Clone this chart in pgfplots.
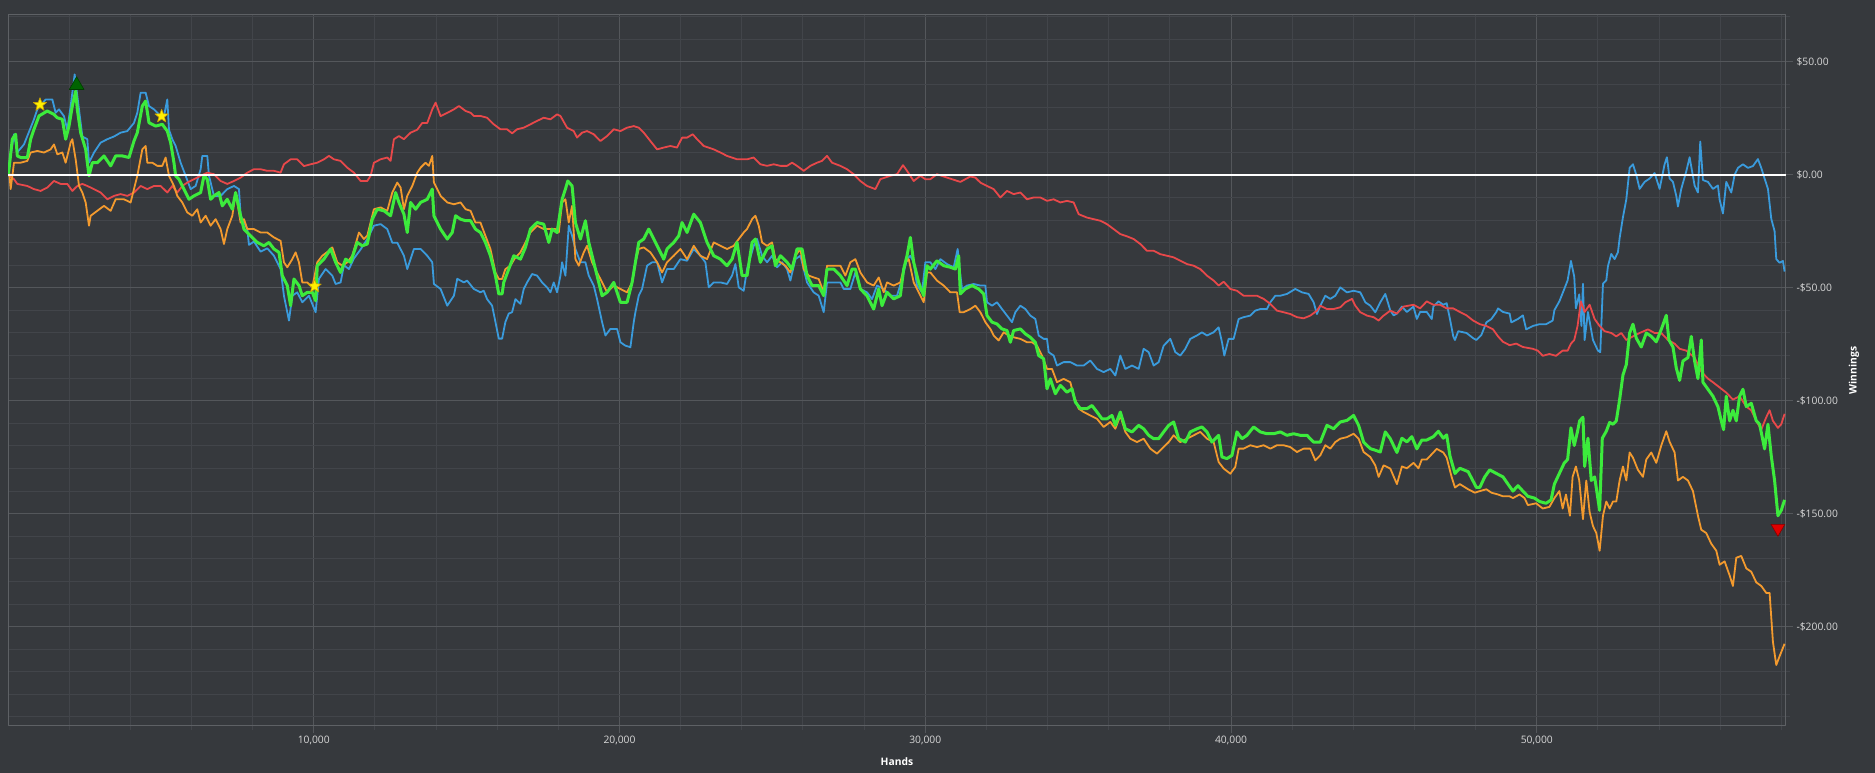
\documentclass[border=0pt]{standalone}
\usepackage{fontspec}
\setmainfont{Open Sans}
\usepackage{pgfplots}
\pgfplotsset{compat=1.18}
\usepackage{pgfplotstable}
\usetikzlibrary{plotmarks}
\definecolor{bg}{HTML}{36393D}
\definecolor{gridmin}{HTML}{42454A}
\definecolor{gridmaj}{HTML}{54575B}
\definecolor{framecol}{HTML}{5E6165}
\definecolor{ticktext}{HTML}{D8D8D8}
\definecolor{blueC}{HTML}{3A9BDC}
\definecolor{redC}{HTML}{E8484A}
\definecolor{orangeC}{HTML}{F39A2E}
\definecolor{greenC}{HTML}{3CEB3C}
\definecolor{starY}{HTML}{FFF000}
\definecolor{starD}{HTML}{C8A000}
\definecolor{dkgreen}{HTML}{006400}
\definecolor{redM}{HTML}{E00000}

\pgfdeclareplotmark{fstar}{%
  \pgfpathmoveto{\pgfpointpolar{90}{\pgfplotmarksize}}%
  \pgfpathlineto{\pgfpointpolar{126}{0.42\pgfplotmarksize}}%
  \pgfpathlineto{\pgfpointpolar{162}{\pgfplotmarksize}}%
  \pgfpathlineto{\pgfpointpolar{198}{0.42\pgfplotmarksize}}%
  \pgfpathlineto{\pgfpointpolar{234}{\pgfplotmarksize}}%
  \pgfpathlineto{\pgfpointpolar{270}{0.42\pgfplotmarksize}}%
  \pgfpathlineto{\pgfpointpolar{306}{\pgfplotmarksize}}%
  \pgfpathlineto{\pgfpointpolar{342}{0.42\pgfplotmarksize}}%
  \pgfpathlineto{\pgfpointpolar{18}{\pgfplotmarksize}}%
  \pgfpathlineto{\pgfpointpolar{54}{0.42\pgfplotmarksize}}%
  \pgfpathclose
  \pgfusepathqfillstroke}

\pgfplotstableread{
x y
0 0
33 4
196 18
305 10
523 13.5
850 24.6
959 29
1232 33.4
1450 33.4
1559 27.5
1668 29
1831 26
1940 20
2049 30.5
2180 44.5
2267 35
2431 17
2594 15.8
2649 5.4
2812 9.9
3030 14.3
3248 15.8
3466 17
3684 18.7
3902 19.4
4120 23
4229 27.5
4338 36.4
4502 36.4
4611 30.5
4774 29
4938 26.8
5101 26
5210 33.4
5265 20
5374 15.8
5483 12.8
5646 5.4
5810 -0.4
5973 -6.3
6137 -4.9
6300 2.5
6355 8.4
6518 8.4
6573 -0.4
6736 -9.3
6954 -9.3
7172 -6.3
7390 -4.9
7554 -6.3
7608 -18
7826 -24
7881 -31
8044 -29.5
8262 -34
8480 -32.5
8698 -35.8
8916 -41.7
9025 -53.5
9189 -64.5
9298 -53.5
9461 -52
9625 -56.4
9843 -53.5
10061 -60.8
10170 -46
10388 -41.7
10606 -44.6
10715 -48.3
10878 -47.6
10987 -40
11151 -41.7
11314 -37
11532 -33
11750 -28.4
11968 -22.5
12186 -21.8
12404 -24
12568 -30
12731 -30
12949 -35.8
13058 -41.7
13276 -32.8
13494 -32.8
13712 -35.8
13876 -38.7
13930 -48.3
14148 -50.5
14366 -57.9
14584 -53.5
14693 -46
14911 -47.6
15015 -46.8
15233 -50.5
15451 -52
15560 -51.3
15669 -55
15833 -57.9
15942 -65.1
16051 -72.5
16160 -72.5
16268 -65.1
16378 -61.4
16487 -60.8
16596 -55
16759 -57.1
16868 -50.5
16977 -47.6
17141 -43.9
17304 -44.6
17468 -47.6
17631 -49.8
17740 -52
17849 -47.6
17958 -52
18067 -44.6
18122 -38.7
18231 -44.6
18340 -22.5
18449 -27
18558 -32.8
18721 -38.7
18885 -38.7
18994 -44.6
19157 -49
19266 -55
19430 -65.2
19539 -71.1
19702 -68.2
19920 -68.2
20029 -74.1
20193 -75.6
20356 -76.3
20465 -65.2
20520 -60.8
20629 -53.5
20738 -50.5
20901 -40.2
21065 -38.7
21228 -38.7
21392 -47.6
21555 -41.7
21773 -41.7
21991 -37.3
22209 -38
22427 -32.8
22645 -35.8
22809 -38.7
22918 -49.8
23081 -47.6
23299 -47.6
23517 -48.3
23681 -44.6
23790 -39.5
23899 -49.8
24062 -51.3
24171 -41.7
24389 -31.4
24498 -28.4
24662 -35.8
24825 -38.7
24989 -35.8
25152 -40.9
25316 -38.7
25479 -41.7
25588 -46.8
25752 -37.3
25915 -35.8
26133 -47.6
26351 -52
26515 -53.5
26678 -60.8
26787 -47.6
27005 -47.6
27223 -47.6
27332 -50.5
27550 -50.5
27714 -43.2
27877 -50.5
28095 -52
28259 -55
28422 -49
28640 -50.5
28858 -53.5
29076 -53.5
29240 -46.1
29403 -37.3
29512 -35.8
29621 -38.7
29730 -49
29894 -52
30002 -38.7
30166 -38.7
30330 -41.7
30493 -37.3
30711 -39.5
30929 -40.9
31060 -32.8
31125 -41.7
31202 -50.5
31365 -49
31583 -48.3
31801 -49
31965 -49
32019 -56.4
32183 -57.9
32346 -56.4
32510 -59.4
32673 -62.3
32837 -65.2
32946 -60.8
33109 -57.9
33273 -59.4
33436 -62.3
33600 -63.8
33709 -71.1
33872 -72.6
33981 -72.6
34036 -78.5
34199 -80
34308 -84.4
34526 -82.9
34744 -82.9
34962 -84.4
35180 -84.4
35398 -82.2
35616 -85.9
35834 -87.3
36052 -85.9
36216 -88.8
36379 -80
36543 -85.9
36761 -84.4
36979 -85.9
37142 -77
37306 -78.5
37469 -84.4
37633 -82.9
37796 -75.6
38014 -72.6
38178 -78.5
38341 -80
38505 -77
38668 -72.6
38886 -71.1
39049 -69.7
39213 -71.1
39431 -69.7
39594 -67.5
39704 -74.1
39780 -80
39921 -72.6
40085 -72.6
40249 -63.8
40412 -63
40630 -62.3
40794 -60.1
40957 -59.4
41175 -59.4
41284 -56.4
41448 -53.5
41611 -53.5
41829 -52.7
42102 -50.5
42320 -52
42538 -52.7
42701 -56.4
42810 -61.6
42919 -57.9
43083 -53.5
43246 -54.9
43410 -53.5
43573 -49.8
43791 -52
44009 -51.3
44227 -52
44391 -56.4
44554 -57.9
44718 -60.8
44881 -56.4
45045 -52.7
45208 -60
45317 -62.2
45425 -61.4
45588 -58.3
45751 -60.7
45967 -58.3
46076 -63.8
46184 -60.7
46401 -60.7
46564 -63.8
46618 -58.3
46781 -56
46943 -57.5
47052 -56.8
47160 -63.8
47268 -71.5
47323 -73.1
47431 -69.2
47702 -70
47919 -72.3
48025 -73.1
48190 -70.8
48352 -65.3
48515 -63.8
48678 -60.7
48732 -59.1
48894 -60.7
49111 -61.4
49166 -65.3
49383 -63.8
49545 -62.2
49653 -68.4
49870 -66.9
50087 -66.1
50304 -66.1
50520 -64.5
50575 -59.9
50737 -56
50900 -50.5
51008 -46.7
51117 -38.1
51225 -45.1
51279 -59.1
51388 -52.9
51460 -66.9
51510 -48.2
51564 -73.1
51673 -60.7
51837 -73.1
52000 -77.8
52076 -78.5
52164 -48.2
52273 -46.7
52327 -40.4
52436 -35
52545 -37.3
52654 -34.2
52709 -28
52818 -18.7
52927 -10.9
53036 3.1
53145 4.7
53254 0
53363 -6.2
53526 -3.1
53690 -1.6
53853 0.8
54017 -6.2
54180 4.7
54256 7.8
54344 -1.6
54453 -3.1
54562 -9.3
54616 -14
54725 -6.2
54889 1.6
54998 7.8
55161 -4.7
55270 -7.8
55346 14.8
55434 -2.3
55597 -3.1
55761 -6.2
55924 -4.7
55979 -10.9
56088 -17.1
56197 -3.1
56360 -7.8
56469 0
56578 3.1
56742 4.7
56906 3.1
57069 3.9
57232 7
57341 3.1
57450 -1.6
57560 -6.2
57668 -19.4
57777 -24.9
57832 -37.3
57941 -38.9
58050 -38.1
58104 -42.8
}\blueT

\pgfplotstableread{
x y
0 0
33 -0.4
196 -1.9
305 -4.0
632 -4.9
850 -6.3
1068 -7.1
1286 -5.6
1504 -2.7
1722 -4.0
1940 -4.0
2104 -7.1
2267 -4.9
2431 -4.0
2594 -4.9
2812 -6.3
3030 -7.8
3248 -10.8
3466 -9.3
3684 -8.5
3902 -9.3
4120 -7.8
4338 -4.9
4556 -6.3
4774 -4.9
4992 -4.9
5210 -7.8
5374 -4.9
5537 -7.8
5701 -4.9
5864 -3.4
6082 -1.9
6300 -0.4
6518 1.0
6736 0.3
6954 -2.7
7172 -4.0
7390 -2.7
7608 -1.2
7826 1.0
8044 2.5
8262 2.5
8480 1.8
8698 1.8
8916 1.0
9025 4.7
9243 6.9
9461 6.9
9679 3.9
9897 4.7
10115 5.4
10333 6.9
10497 8.4
10660 6.9
10878 6.2
11096 3.2
11314 1.0
11532 -2.7
11750 -2.7
11859 -0.4
11968 5.4
12186 6.9
12404 7.7
12513 6.2
12622 15.8
12786 17.2
12949 15.8
13167 18.7
13385 20.0
13548 23.0
13712 23.0
13876 29.0
13985 32.0
14148 26.0
14366 27.5
14584 29.0
14748 30.5
14966 28.3
15129 27.5
15233 26.1
15451 26.1
15669 25.3
15887 22.4
16105 20.2
16323 20.2
16487 18.4
16650 20.2
16868 20.9
17086 22.4
17304 23.9
17522 25.3
17740 24.6
17958 26.8
18067 26.1
18285 20.9
18503 19.4
18612 16.5
18776 18.7
18939 19.4
19157 18.0
19375 15.0
19593 17.2
19811 20.2
20029 19.4
20247 20.9
20465 21.6
20629 20.9
20792 18.7
21010 15.0
21228 11.3
21446 12.1
21664 12.8
21882 12.1
22046 16.5
22209 16.5
22394 18.0
22536 15.8
22754 12.8
23081 11.3
23299 9.9
23517 8.4
23844 6.9
24171 6.9
24389 7.7
24607 4.7
24825 4.0
25043 4.7
25261 4.0
25479 4.0
25643 5.4
25806 4.0
26024 1.8
26242 4.0
26460 5.4
26624 6.2
26787 8.4
26951 5.4
27223 4.0
27441 2.5
27659 0.3
27877 -2.7
28095 -4.9
28368 -6.3
28531 -1.9
28858 -0.4
29076 0.3
29272 4.3
29403 1.8
29621 -2.7
29839 -0.4
30002 -1.9
30166 -1.9
30384 0.3
30711 -1.2
31147 -3.1
31474 -0.7
31638 -1.2
31801 -3.4
32019 -4.9
32237 -6.3
32455 -10.0
32673 -7.1
32891 -8.5
33109 -7.8
33327 -10.8
33545 -10.0
33763 -10.0
33981 -11.5
34199 -10.8
34417 -12.2
34635 -11.5
34853 -12.2
35017 -17.4
35289 -18.9
35507 -19.6
35725 -20.3
35943 -21.8
36161 -24.0
36379 -26.2
36597 -27.2
36815 -28.4
37033 -30.6
37251 -33.6
37469 -33.6
37687 -35.1
37905 -35.8
38123 -36.5
38341 -38.0
38559 -39.5
38777 -40.2
38995 -41.7
39213 -44.6
39431 -46.8
39594 -49.0
39758 -47.3
39976 -50.5
40194 -51.3
40412 -53.5
40630 -53.5
40848 -53.5
41066 -54.9
41284 -57.1
41502 -60.1
41720 -60.8
41938 -61.6
42156 -63.0
42374 -63.5
42592 -62.3
42810 -60.1
42919 -57.9
43137 -59.4
43355 -59.4
43573 -58.6
43737 -56.4
43955 -54.9
44064 -57.9
44227 -60.8
44445 -62.3
44663 -63.0
44827 -64.5
44990 -62.3
45208 -60.1
45425 -61.4
45642 -58.3
45967 -57.5
46184 -59.1
46401 -56.0
46618 -57.5
46835 -57.5
47052 -59.1
47268 -59.1
47485 -60.7
47702 -62.2
47919 -64.5
48136 -66.1
48352 -66.9
48569 -68.4
48732 -71.5
48894 -73.9
49111 -75.4
49328 -74.7
49545 -76.2
49870 -77.0
50033 -77.8
50195 -80.1
50412 -79.3
50629 -80.1
50846 -77.8
51008 -77.8
51117 -74.7
51225 -73.1
51333 -66.9
51442 -56.0
51564 -60.7
51728 -57.5
51891 -63.8
52055 -66.9
52218 -69.2
52436 -70.0
52600 -71.5
52763 -70.0
52927 -73.1
53145 -71.5
53363 -70.0
53635 -68.4
53853 -70.0
54071 -70.0
54289 -73.1
54507 -74.7
54671 -77.0
54889 -77.8
55161 -80.9
55379 -87.1
55597 -90.2
55761 -91.8
55979 -94.1
56197 -96.4
56415 -99.5
56633 -98.0
56851 -102.6
57014 -104.2
57178 -108.9
57341 -112.8
57505 -107.3
57614 -104.2
57723 -108.9
57886 -112.0
57995 -110.4
58104 -105.8
}\redT

\pgfplotstableread{
x y
0 0
33 2.5
87 -6.3
196 5.4
414 5.4
632 6.2
741 9.9
959 10.6
1177 9.9
1395 11.3
1504 13.5
1613 9.1
1777 9.9
1886 5.4
2049 14.3
2104 15.8
2213 6.9
2322 -4.9
2431 -7.8
2540 -12.2
2649 -22.5
2703 -18.1
2921 -15.9
3139 -13.7
3357 -15.9
3521 -10.8
3793 -10.8
4011 -12.2
4120 -6.3
4229 -0.4
4393 11.3
4502 12.8
4556 5.4
4720 5.4
4883 4.0
5047 4.0
5156 7.7
5265 -0.4
5428 -4.9
5537 -9.3
5701 -12.2
5864 -16.6
6028 -18.1
6191 -15.2
6300 -21.1
6464 -18.1
6627 -22.5
6791 -19.6
6954 -24.0
7063 -30.6
7172 -24.0
7336 -18.1
7445 -7.8
7608 -21.1
7717 -19.6
7826 -24.0
8044 -24.0
8262 -25.5
8480 -25.5
8698 -27.7
8916 -29.2
9025 -38.7
9134 -40.9
9298 -37.3
9407 -34.3
9516 -38.7
9625 -47.6
9788 -47.6
9952 -49.8
10115 -38.7
10279 -35.8
10497 -33.6
10606 -32.1
10769 -38.7
10933 -40.2
11096 -38.7
11260 -35.8
11478 -25.5
11641 -28.4
11750 -26.9
11968 -15.2
12186 -14.4
12404 -15.9
12568 -7.8
12731 -3.4
12840 -5.6
12949 -15.2
13058 -9.3
13222 -4.9
13385 1.0
13494 3.2
13657 5.4
13766 4.0
13876 8.4
13930 -3.4
14039 -6.3
14148 -9.3
14366 -12.2
14584 -13.0
14802 -12.2
14966 -15.2
15129 -15.9
15288 -21.1
15451 -21.1
15615 -27.0
15778 -32.8
15942 -43.2
16051 -46.1
16160 -46.1
16268 -41.7
16432 -40.2
16596 -36.5
16759 -34.3
16923 -29.9
17086 -25.5
17304 -22.5
17522 -24.0
17740 -24.0
17904 -24.0
18013 -25.5
18122 -12.2
18231 -10.8
18340 -21.1
18449 -13.7
18558 -37.3
18667 -40.2
18830 -34.3
18939 -31.4
19103 -38.7
19266 -43.2
19430 -47.6
19593 -52.0
19811 -49.0
20029 -50.5
20247 -52.0
20411 -47.6
20520 -38.7
20629 -32.8
20792 -32.1
21010 -34.3
21228 -38.7
21392 -43.2
21555 -38.7
21773 -35.8
21991 -32.8
22209 -37.3
22427 -31.4
22645 -35.8
22863 -37.3
23081 -29.9
23299 -31.4
23517 -32.8
23735 -31.4
23899 -28.4
24062 -25.5
24171 -24.0
24335 -19.6
24444 -18.1
24553 -22.5
24662 -29.9
24825 -31.4
24989 -29.9
25098 -37.3
25261 -38.7
25425 -40.2
25588 -43.2
25752 -35.8
25915 -32.8
26024 -41.7
26188 -44.6
26351 -45.4
26515 -46.1
26678 -52.0
26787 -40.2
27005 -40.2
27223 -40.2
27387 -44.6
27550 -38.7
27714 -37.3
27877 -43.2
28095 -47.6
28313 -49.0
28477 -45.4
28640 -52.0
28749 -47.6
28967 -49.0
29185 -47.6
29349 -38.7
29458 -37.3
29621 -47.6
29785 -52.0
29948 -56.4
30057 -43.2
30166 -43.2
30384 -46.8
30602 -49.0
30820 -52.0
31038 -52.0
31125 -60.8
31256 -60.8
31474 -59.4
31638 -57.9
31801 -60.8
31965 -65.2
32128 -68.2
32237 -71.1
32401 -73.3
32564 -69.7
32728 -71.1
32891 -71.9
33109 -72.6
33327 -74.1
33491 -74.1
33654 -75.6
33818 -80.0
33981 -85.9
34145 -85.9
34308 -91.8
34526 -90.3
34744 -91.8
34853 -97.6
35017 -103.5
35180 -105.0
35398 -106.5
35616 -108.0
35834 -111.6
36052 -109.4
36216 -112.4
36379 -106.5
36543 -113.8
36706 -116.8
36924 -118.3
37142 -116.8
37360 -121.2
37578 -123.4
37742 -121.2
37960 -118.3
38123 -115.3
38341 -118.3
38559 -116.8
38777 -115.3
38995 -113.8
39213 -116.8
39431 -118.3
39594 -127.1
39758 -130.0
39976 -132.3
40139 -129.3
40249 -121.2
40412 -121.2
40630 -119.7
40848 -120.5
41066 -119.7
41284 -121.2
41502 -119.7
41720 -119.7
41938 -120.5
42156 -122.7
42374 -121.2
42592 -121.2
42756 -126.4
42919 -124.2
43083 -119.7
43246 -121.2
43410 -118.3
43573 -116.8
43791 -116.1
44009 -114.6
44173 -116.8
44336 -122.7
44554 -124.9
44718 -128.6
44827 -133.7
44990 -128.6
45208 -130.0
45425 -136.9
45588 -129.1
45751 -129.9
45967 -127.5
46130 -129.9
46239 -126.0
46401 -126.0
46618 -122.9
46726 -121.3
46943 -122.9
47052 -125.2
47214 -133.7
47323 -138.4
47485 -136.9
47756 -139.2
47973 -140.7
48136 -140.0
48352 -139.2
48515 -140.7
48732 -141.5
48894 -142.3
49111 -142.3
49220 -143.1
49437 -141.5
49599 -143.1
49707 -146.2
49978 -145.4
50195 -147.7
50412 -147.0
50575 -143.1
50737 -140.0
50846 -147.7
50954 -141.5
51084 -150.9
51171 -133.7
51279 -129.1
51388 -135.3
51510 -152.4
51618 -135.3
51728 -149.3
51837 -155.5
51946 -158.6
52055 -166.4
52164 -150.9
52273 -144.6
52382 -147.7
52491 -144.6
52600 -144.6
52709 -135.3
52818 -129.1
52927 -135.3
53036 -122.9
53145 -125.2
53308 -130.6
53472 -133.7
53581 -126.0
53744 -122.9
53908 -127.5
54071 -119.8
54235 -113.5
54344 -118.2
54507 -122.9
54616 -135.3
54780 -133.7
54943 -135.3
55107 -140.0
55270 -150.9
55379 -157.1
55543 -158.6
55706 -163.3
55870 -166.4
55979 -172.6
56142 -171.1
56306 -177.3
56415 -182.0
56524 -169.5
56687 -168.7
56851 -174.2
57014 -175.7
57178 -180.4
57341 -182.0
57505 -185.1
57614 -185.1
57723 -206.8
57832 -217.0
57941 -213.1
58104 -207.6
}\orangeT

\pgfplotstableread{
x y
0 0
33 2.5
141 15.8
250 18.0
305 8.4
414 7.7
632 7.7
741 15.8
850 20.2
1014 26.1
1286 28.3
1504 26.8
1613 25.3
1777 24.6
1886 15.8
1995 21.6
2104 30.5
2213 37.1
2267 29.0
2376 18.7
2540 11.3
2649 -0.4
2758 5.4
2921 5.4
3139 8.4
3357 4.0
3521 8.4
3739 8.4
3957 7.7
4120 15.0
4229 18.7
4393 30.5
4502 32.7
4611 23.1
4829 21.6
5047 22.4
5210 19.4
5319 14.3
5428 5.4
5483 -0.4
5592 -1.9
5755 -6.3
5919 -10.8
6082 -9.3
6300 -7.8
6409 -0.4
6518 -1.9
6627 -10.8
6736 -9.3
6900 -7.8
7009 -13.7
7172 -10.8
7336 -15.2
7445 -7.8
7608 -18.1
7717 -24.0
7826 -25.5
7935 -27.0
8153 -29.9
8371 -31.4
8535 -29.9
8698 -32.8
8862 -34.3
8971 -44.6
9134 -49.0
9243 -57.9
9352 -46.1
9516 -49.0
9625 -53.5
9788 -52.0
9952 -52.0
10061 -55.7
10115 -40.2
10333 -37.3
10551 -32.8
10715 -38.7
10878 -43.2
11042 -37.3
11205 -38.7
11423 -29.9
11587 -31.4
11750 -30.6
11914 -19.6
12077 -15.2
12295 -15.9
12513 -18.1
12677 -7.8
12786 -12.2
12949 -17.4
13058 -25.5
13167 -12.2
13331 -15.2
13494 -12.2
13712 -10.8
13876 -6.3
13930 -18.1
14148 -24.0
14366 -28.4
14530 -25.5
14639 -18.1
14802 -19.6
14966 -20.3
15129 -20.3
15288 -24.0
15451 -25.5
15615 -29.9
15778 -35.8
15942 -44.6
16051 -52.7
16160 -52.7
16214 -47.6
16378 -41.7
16541 -35.8
16759 -37.3
16923 -32.1
17086 -24.0
17304 -21.1
17522 -21.8
17686 -29.9
17794 -24.0
17958 -25.5
18122 -10.8
18231 -6.3
18307 -2.7
18449 -4.9
18558 -21.1
18721 -28.4
18885 -20.3
18994 -29.9
19103 -35.8
19266 -44.6
19430 -53.5
19593 -52.0
19811 -47.6
20029 -56.4
20247 -56.4
20411 -47.6
20520 -38.7
20629 -29.9
20792 -28.4
20956 -24.0
21119 -28.4
21283 -32.8
21446 -37.3
21555 -32.8
21773 -29.9
21937 -27.0
22046 -21.1
22209 -25.5
22427 -17.4
22645 -21.1
22863 -29.9
23081 -35.8
23299 -37.3
23517 -40.2
23681 -37.3
23844 -29.9
24008 -44.6
24171 -44.6
24335 -29.9
24444 -28.4
24607 -38.7
24825 -32.8
24989 -31.4
25098 -40.2
25261 -35.8
25479 -38.7
25643 -41.7
25806 -32.8
25970 -32.8
26133 -44.6
26297 -49.0
26515 -49.0
26678 -53.5
26787 -41.7
27005 -41.7
27223 -44.6
27441 -49.0
27604 -41.7
27714 -41.7
27877 -50.5
28095 -53.5
28313 -59.4
28477 -50.5
28586 -57.9
28749 -52.0
28967 -54.9
29185 -53.5
29294 -41.7
29403 -35.8
29512 -27.7
29621 -38.7
29785 -47.6
29948 -53.5
30057 -40.2
30166 -41.7
30384 -38.0
30602 -40.2
30820 -40.9
30984 -41.7
31093 -35.8
31147 -52.7
31311 -50.5
31529 -49.0
31747 -50.5
31910 -52.7
32019 -62.3
32183 -65.2
32346 -66.0
32510 -68.2
32673 -68.9
32782 -74.1
32891 -68.9
33109 -68.2
33273 -70.4
33436 -71.9
33600 -74.1
33709 -80.0
33872 -81.4
33981 -94.7
34090 -90.3
34254 -96.9
34417 -93.2
34635 -96.2
34799 -94.7
34908 -100.6
35071 -103.5
35289 -103.5
35453 -102.1
35616 -105.0
35780 -108.0
35943 -108.0
36107 -106.5
36216 -110.9
36379 -105.0
36543 -112.4
36761 -113.8
36979 -110.9
37142 -112.4
37306 -115.3
37469 -116.8
37633 -116.8
37796 -113.8
37960 -110.9
38123 -109.4
38287 -116.8
38505 -118.3
38668 -113.8
38886 -112.4
39049 -111.6
39213 -113.8
39376 -118.3
39594 -115.3
39704 -124.9
39867 -125.6
40030 -124.2
40194 -113.8
40358 -116.8
40521 -115.3
40739 -111.6
40957 -113.8
41175 -114.6
41393 -114.6
41611 -113.8
41829 -115.3
42047 -114.6
42265 -115.3
42483 -115.3
42701 -118.3
42919 -118.3
43137 -110.9
43355 -112.4
43573 -109.4
43791 -108.7
44009 -106.5
44173 -110.9
44336 -118.3
44554 -121.2
44718 -121.9
44881 -122.7
45045 -113.8
45208 -116.8
45425 -122.9
45588 -116.6
45751 -118.2
45913 -115.9
46076 -121.3
46239 -117.4
46401 -117.4
46618 -115.9
46781 -113.5
46943 -116.6
47052 -115.1
47160 -124.4
47323 -132.2
47485 -129.9
47756 -131.4
48025 -138.4
48136 -138.4
48298 -133.7
48461 -130.6
48678 -132.2
48894 -133.7
49057 -136.9
49220 -140.0
49383 -137.6
49545 -140.0
49707 -142.3
49924 -143.1
50087 -144.6
50304 -145.4
50466 -143.9
50575 -136.9
50737 -132.2
50900 -127.5
51008 -126.0
51117 -112.0
51225 -119.8
51333 -113.5
51400 -108.9
51510 -107.3
51564 -129.1
51673 -116.6
51782 -135.3
51891 -133.7
52055 -148.5
52142 -116.6
52273 -113.5
52382 -109.6
52491 -110.4
52600 -108.9
52709 -99.5
52818 -88.6
52927 -84.0
53036 -70.0
53145 -66.1
53254 -72.3
53417 -76.2
53581 -70.0
53744 -71.5
53908 -73.9
54071 -68.4
54235 -62.2
54322 -73.1
54453 -76.2
54562 -85.5
54671 -91.0
54780 -82.4
54943 -80.9
55052 -71.5
55161 -82.4
55270 -90.2
55379 -73.1
55434 -91.8
55597 -94.9
55761 -98.0
55924 -102.6
56033 -108.9
56109 -112.8
56197 -98.0
56306 -108.9
56415 -104.2
56524 -108.9
56633 -98.0
56742 -94.9
56851 -102.6
57014 -101.1
57178 -108.9
57287 -110.4
57450 -121.3
57560 -110.4
57668 -124.4
57777 -135.3
57886 -150.9
57995 -148.5
58104 -143.9
}\greenT

\begin{document}
\begin{tikzpicture}[x=1bp,y=1bp]
\fill[bg] (0,0) rectangle (1875,773);
\useasboundingbox (0,0) rectangle (1875,773);
\begin{axis}[
  at={(8bp,47bp)}, anchor=south west,
  scale only axis, width=1778bp, height=711bp,
  xmin=0, xmax=58150, ymin=-244, ymax=70.8,
  scaled x ticks=false, scaled y ticks=false,
  axis line style={framecol, line width=1bp},
  xtick={10000,20000,30000,40000,50000},
  xticklabels={{10,000},{20,000},{30,000},{40,000},{50,000}},
  minor xtick={2000,4000,...,58000},
  ytick={-200,-150,-100,-50,0,50},
  yticklabels={-\$200.00,-\$150.00,-\$100.00,-\$50.00,\$0.00,\$50.00},
  minor ytick={-240,-230,...,70},
  grid=both,
  major grid style={gridmaj, line width=1bp},
  minor grid style={gridmin, line width=1bp},
  tick align=outside,
  xtick pos=bottom, ytick pos=right,
  yticklabel pos=right,
  major tick length=7bp, minor tick length=4bp,
  major tick style={gridmaj, line width=1bp},
  minor tick style={gridmin, line width=1bp},
  tick label style={font=\fontsize{10.3bp}{12bp}\selectfont, text=ticktext},
  xlabel={Hands}, ylabel={Winnings},
  xlabel style={at={(axis description cs:0.5,0)}, anchor=center, yshift=-36bp, font=\bfseries\fontsize{10.3bp}{12bp}\selectfont, text=white},
  ylabel style={at={(axis description cs:1,0.5)}, anchor=center, yshift=-68bp, font=\bfseries\fontsize{10.3bp}{12bp}\selectfont, text=white},
  line join=round,
]
\addplot[blueC, line width=1.8bp] table {\blueT};
\addplot[redC, line width=1.8bp] table {\redT};
\addplot[orangeC, line width=1.8bp] table {\orangeT};
\addplot[greenC, line width=3bp] table {\greenT};
\addplot[white, line width=2.5bp] coordinates {(0,0) (58150,0)};
\addplot[only marks, mark=fstar, mark size=7bp, mark options={fill=starY, draw=starD, line width=0.6bp}] coordinates {(1046,31.1) (5025,26) (10028,-49.3)};
\addplot[only marks, mark=triangle*, mark size=8.5bp, mark options={fill=dkgreen, draw=dkgreen!60!black, line width=0.6bp}] coordinates {(2245,39.7)};
\addplot[only marks, mark=triangle*, mark size=8bp, mark options={rotate=180, fill=redM, draw=redM!60!black, line width=0.6bp}] coordinates {(57886,-156.5)};
\end{axis}
\end{tikzpicture}
\end{document}
